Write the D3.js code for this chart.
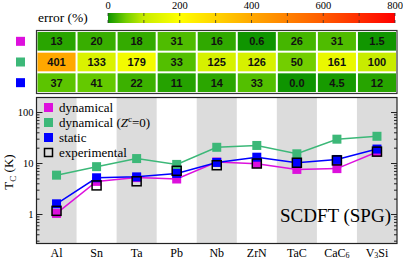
<!DOCTYPE html>
<html><head><meta charset="utf-8">
<script src="https://cdn.jsdelivr.net/npm/d3@7"></script>
<style>body{margin:0;background:#fff}svg{display:block}.sf{font-family:"Liberation Serif","DejaVu Serif",serif}</style>
</head><body>
<svg id="c" width="403" height="260"></svg>
<script>
const categories = ["Al","Sn","Ta","Pb","Nb","ZrN","TaC","CaC6","V3Si"];
const dynamical = [1.05,4.46,5.29,4.97,10.7,9.94,7.66,7.94,16.8];
const dynamicalZ0 = [5.91,8.67,12.5,9.6,20.8,22.6,15.5,30.0,34.2];
const staticVals = [1.62,5.25,5.47,6.4,10.5,13.3,10.35,12.0,19.2];
const experimental = [1.18,3.72,4.48,7.2,9.25,10.0,10.35,11.5,17.1];
const errDynamical = ["13","20","18","31","16","0.6","26","31","1.5"];
const errZ0 = ["401","133","179","33","125","126","50","161","100"];
const errStatic = ["37","41","22","11","14","33","0.0","4.5","12"];
const cbTicks = [0,200,400,600,800];
const yTicks = [1,10,100];

const svg = d3.select("#c");
const L=36.5, R=397, T=97.5, B=243.5;
const x = d3.scaleBand().domain(categories).range([L,R]);
const y = d3.scaleLog().domain([0.27,197]).range([B,T]);

const colMag="#dd10dd", colGreen="#3cb878", colBlue="#0000ff";

const errColor = d3.scaleLinear()
  .domain([0,40,100,200,400,600,800])
  .range(["#0e9400","#62c800","#c8ec00","#ffff00","#ffa800","#ff5a00","#ff0000"])
  .clamp(true);

// colorbar
const cb = d3.scaleLinear().domain([0,800]).range([108,395]);
const defs = svg.append("defs");
const grad = defs.append("linearGradient").attr("id","g");
d3.range(0,801,50).forEach(v=>grad.append("stop").attr("offset",v/800).attr("stop-color",errColor(v)));
svg.append("rect").attr("x",cb(0)).attr("y",13).attr("width",cb(800)-cb(0)).attr("height",10).attr("fill","url(#g)");
d3.range(0,801,100).forEach(v=>{
  svg.append("line").attr("x1",cb(v)).attr("x2",cb(v)).attr("y1",13).attr("y2",16).attr("stroke","#333").attr("stroke-width",0.8);
  svg.append("line").attr("x1",cb(v)).attr("x2",cb(v)).attr("y1",20).attr("y2",23).attr("stroke","#333").attr("stroke-width",0.8);
});
svg.selectAll(".cbt").data(cbTicks).enter().append("text").attr("class","sf").attr("x",d=>cb(d)).attr("y",9)
  .attr("text-anchor","middle").attr("font-size",10.5).text(d=>d);
svg.append("text").attr("class","sf").attr("x",38).attr("y",22).attr("font-size",13.5).text("error (%)");

// heatmap
const hmTop=31, hmBot=93;
const rowsY = d3.scaleBand().domain([0,1,2]).range([hmTop,hmBot]);
const rows=[errDynamical,errZ0,errStatic];
const rowCols=[colMag,colGreen,colBlue];
svg.append("rect").attr("x",L).attr("y",hmTop-0.5).attr("width",R-L).attr("height",hmBot-hmTop+1).attr("fill","#fff");
rows.forEach((r,ri)=>{
  r.forEach((v,ci)=>{
    const cx=x(categories[ci]);
    svg.append("rect").attr("x",cx+1).attr("y",rowsY(ri)+1).attr("width",x.bandwidth()-2).attr("height",rowsY.bandwidth()-2)
      .attr("fill",errColor(+v));
    svg.append("text").attr("x",cx+x.bandwidth()/2).attr("y",rowsY(ri)+rowsY.bandwidth()/2+4)
      .attr("text-anchor","middle").attr("font-family","Liberation Sans, Arial, sans-serif").attr("font-weight","bold")
      .attr("font-size",11).attr("fill","#111").text(v);
  });
  svg.append("rect").attr("x",16).attr("y",rowsY(ri)+rowsY.bandwidth()/2-4.5).attr("width",9).attr("height",9).attr("fill",rowCols[ri]);
});
svg.append("rect").attr("x",L).attr("y",hmTop-0.5).attr("width",R-L).attr("height",hmBot-hmTop+1).attr("fill","none").attr("stroke","#333").attr("stroke-width",1.2);

// plot background bands
categories.forEach((c,i)=>{
  if(i%2===0) svg.append("rect").attr("x",x(c)).attr("y",T).attr("width",x.bandwidth()).attr("height",B-T).attr("fill","#dcdcdc");
});

// y ticks
const minor=[];
for(let e=-1;e<=2;e++) for(let m=1;m<=9;m++){const v=m*Math.pow(10,e); if(v>=0.27&&v<=197) minor.push(v);}
const gT = svg.append("g");
minor.forEach(v=>{
  const major = yTicks.includes(v);
  const len = major?6:3;
  gT.append("line").attr("x1",L).attr("x2",L+len).attr("y1",y(v)).attr("y2",y(v)).attr("stroke","#222").attr("stroke-width",1);
  gT.append("line").attr("x1",R-len).attr("x2",R).attr("y1",y(v)).attr("y2",y(v)).attr("stroke","#222").attr("stroke-width",1);
});
svg.selectAll(".yt").data(yTicks).enter().append("text").attr("class","sf").attr("x",L-3).attr("y",d=>y(d)+3.5)
  .attr("text-anchor","end").attr("font-size",10.5).text(d=>d);

// y label
const yl = svg.append("text").attr("class","sf").attr("transform","translate(13,172) rotate(-90)").attr("text-anchor","middle")
  .attr("font-size",13);
yl.append("tspan").text("T");
yl.append("tspan").attr("font-size",9).attr("dy",3).text("C");
yl.append("tspan").attr("dy",-3).text(" (K)");

// lines
const line = d3.line().x((d,i)=>x(categories[i])+x.bandwidth()/2).y(d=>y(d));
const series=[[dynamicalZ0,colGreen],[dynamical,colMag],[staticVals,colBlue]];
series.forEach(([s,c])=>{
  svg.append("path").attr("d",line(s)).attr("fill","none").attr("stroke",c).attr("stroke-width",1.5);
});
series.forEach(([s,c])=>{
  svg.selectAll(null).data(s).enter().append("rect")
    .attr("x",(d,i)=>x(categories[i])+x.bandwidth()/2-4.5).attr("y",d=>y(d)-4.5)
    .attr("width",9).attr("height",9).attr("fill",c);
});
svg.selectAll(null).data(experimental).enter().append("rect")
  .attr("x",(d,i)=>x(categories[i])+x.bandwidth()/2-4.5).attr("y",d=>y(d)-4.5)
  .attr("width",9).attr("height",9).attr("fill","none").attr("stroke","#000").attr("stroke-width",1.5);

// frame
svg.append("rect").attr("x",L).attr("y",T).attr("width",R-L).attr("height",B-T).attr("fill","none").attr("stroke","#222").attr("stroke-width",1.2);

// x labels
categories.forEach((c,i)=>{
  const t = svg.append("text").attr("class","sf").attr("x",x(c)+x.bandwidth()/2).attr("y",257).attr("text-anchor","middle")
    .attr("font-size",12);
  if(c==="CaC6"){t.append("tspan").text("CaC");t.append("tspan").attr("font-size",8).attr("dy",1).text("6");}
  else if(c==="V3Si"){t.append("tspan").text("V");t.append("tspan").attr("font-size",8).attr("dy",1).text("3");t.append("tspan").attr("dy",-1).text("Si");}
  else t.text(c);
});

// legend
const leg=[[colMag,"dynamical",false],[colGreen,"dynamical",true],[colBlue,"static",false],[null,"experimental",false]];
leg.forEach(([c,lab,z],i)=>{
  const ly = 107.5 + i*15;
  if(c) svg.append("rect").attr("x",44).attr("y",ly-4.5).attr("width",9).attr("height",9).attr("fill",c);
  else svg.append("rect").attr("x",44.5).attr("y",ly-4).attr("width",8).attr("height",8).attr("fill","none").attr("stroke","#000").attr("stroke-width",1.5);
  const t=svg.append("text").attr("class","sf").attr("x",59).attr("y",ly+4).attr("font-size",13);
  t.append("tspan").text(lab);
  if(z){
    t.append("tspan").text(" (");
    t.append("tspan").attr("font-style","italic").text("Z");
    t.append("tspan").attr("font-size",9).attr("dy",-5).text("c");
    t.append("tspan").attr("dy",5).text("=0)");
  }
});

svg.append("text").attr("class","sf").attr("x",391).attr("y",222).attr("text-anchor","end").attr("font-size",19).text("SCDFT (SPG)");
</script>
</body></html>
